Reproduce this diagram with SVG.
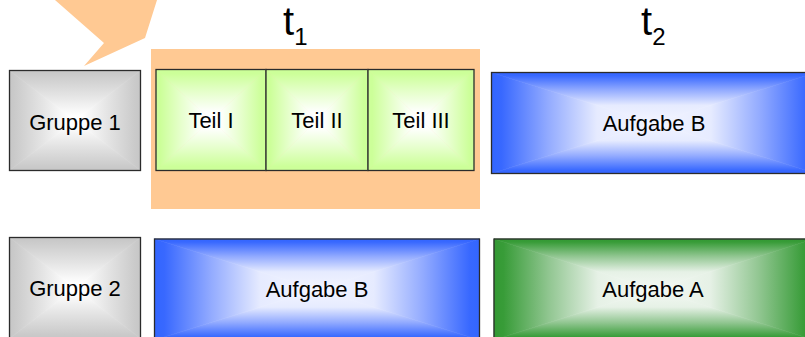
<svg xmlns="http://www.w3.org/2000/svg" xmlns:xlink="http://www.w3.org/1999/xlink" width="805" height="337" viewBox="0 0 805 337">
  <style>
    .lbl{font-family:"Liberation Sans",Arial,sans-serif;font-size:22px;fill:#000;text-anchor:middle}
    .time{font-family:"Liberation Sans",Arial,sans-serif;font-size:40px;fill:#000}
    .edge{fill:none;stroke:#2b2b2b;stroke-width:1.3}
    .hl{fill:#FFC993}
  </style>
  <defs>
    <!-- base colour ramps: edge colour fading to white at the centre -->
    <linearGradient id="gray"><stop offset="0" stop-color="#c6c6c6"/><stop offset="0.08" stop-color="#cacaca"/><stop offset="0.5" stop-color="#e4e4e4"/><stop offset="0.9" stop-color="#ffffff"/></linearGradient>
    <linearGradient id="lime"><stop offset="0" stop-color="#ccff99"/><stop offset="0.08" stop-color="#ccff99"/><stop offset="0.45" stop-color="#e6ffcc"/><stop offset="0.85" stop-color="#ffffff"/></linearGradient>
    <linearGradient id="blue"><stop offset="0" stop-color="#3366ff"/><stop offset="0.06" stop-color="#3868ff"/><stop offset="0.35" stop-color="#93abff"/><stop offset="0.65" stop-color="#e6ebff"/><stop offset="1" stop-color="#f3f5ff"/></linearGradient>
    <linearGradient id="grn"><stop offset="0" stop-color="#339933"/><stop offset="0.06" stop-color="#389c38"/><stop offset="0.35" stop-color="#93c793"/><stop offset="0.65" stop-color="#e6f1e6"/><stop offset="1" stop-color="#f4f9f4"/></linearGradient>
    <!-- four directions per ramp, used on the four triangles of each box -->
    <linearGradient id="grayT" xlink:href="#gray" x1="0" y1="0" x2="0" y2="1"/>
    <linearGradient id="grayB" xlink:href="#gray" x1="0" y1="1" x2="0" y2="0"/>
    <linearGradient id="grayL" xlink:href="#gray" x1="0" y1="0" x2="1" y2="0"/>
    <linearGradient id="grayR" xlink:href="#gray" x1="1" y1="0" x2="0" y2="0"/>
    <linearGradient id="limeT" xlink:href="#lime" x1="0" y1="0" x2="0" y2="1"/>
    <linearGradient id="limeB" xlink:href="#lime" x1="0" y1="1" x2="0" y2="0"/>
    <linearGradient id="limeL" xlink:href="#lime" x1="0" y1="0" x2="1" y2="0"/>
    <linearGradient id="limeR" xlink:href="#lime" x1="1" y1="0" x2="0" y2="0"/>
    <linearGradient id="blueT" xlink:href="#blue" x1="0" y1="0" x2="0" y2="1"/>
    <linearGradient id="blueB" xlink:href="#blue" x1="0" y1="1" x2="0" y2="0"/>
    <linearGradient id="blueL" xlink:href="#blue" x1="0" y1="0" x2="1" y2="0"/>
    <linearGradient id="blueR" xlink:href="#blue" x1="1" y1="0" x2="0" y2="0"/>
    <linearGradient id="grnT" xlink:href="#grn" x1="0" y1="0" x2="0" y2="1"/>
    <linearGradient id="grnB" xlink:href="#grn" x1="0" y1="1" x2="0" y2="0"/>
    <linearGradient id="grnL" xlink:href="#grn" x1="0" y1="0" x2="1" y2="0"/>
    <linearGradient id="grnR" xlink:href="#grn" x1="1" y1="0" x2="0" y2="0"/>
  </defs>

  <rect width="805" height="337" fill="#ffffff"/>

  <!-- highlight: callout pointer and band behind the three parts -->
  <g id="highlight">
    <polygon class="hl" points="55,0 104,43 84,66 145,38 157,0"/>
    <rect class="hl" x="151" y="49" width="329" height="160"/>
  </g>

  <!-- time labels -->
  <g id="t1"><text class="time" x="283" y="35">t<tspan font-size="24" dy="10">1</tspan></text></g>
  <g id="t2"><text class="time" x="641" y="35">t<tspan font-size="24" dy="10">2</tspan></text></g>

  <!-- Gruppe 1 -->
  <g id="gruppe1">
    <polygon points="9.5,70.5 140.5,70.5 75,120.5" fill="url(#grayT)" stroke="url(#grayT)" stroke-width="0.6"/>
    <polygon points="9.5,170.5 140.5,170.5 75,120.5" fill="url(#grayB)" stroke="url(#grayB)" stroke-width="0.6"/>
    <polygon points="9.5,70.5 9.5,170.5 75,120.5" fill="url(#grayL)" stroke="url(#grayL)" stroke-width="0.6"/>
    <polygon points="140.5,70.5 140.5,170.5 75,120.5" fill="url(#grayR)" stroke="url(#grayR)" stroke-width="0.6"/>
    <rect class="edge" x="9.5" y="70.5" width="131" height="100"/>
    <text class="lbl" x="75" y="130">Gruppe 1</text>
  </g>

  <!-- Teil I -->
  <g id="teil1">
    <polygon points="156,69.5 266,69.5 211,120" fill="url(#limeT)" stroke="url(#limeT)" stroke-width="0.6"/>
    <polygon points="156,170.5 266,170.5 211,120" fill="url(#limeB)" stroke="url(#limeB)" stroke-width="0.6"/>
    <polygon points="156,69.5 156,170.5 211,120" fill="url(#limeL)" stroke="url(#limeL)" stroke-width="0.6"/>
    <polygon points="266,69.5 266,170.5 211,120" fill="url(#limeR)" stroke="url(#limeR)" stroke-width="0.6"/>
    <rect class="edge" x="156" y="69.5" width="110" height="101"/>
    <text class="lbl" x="211" y="128">Teil I</text>
  </g>

  <!-- Teil II -->
  <g id="teil2">
    <polygon points="266,69.5 368,69.5 317,120" fill="url(#limeT)" stroke="url(#limeT)" stroke-width="0.6"/>
    <polygon points="266,170.5 368,170.5 317,120" fill="url(#limeB)" stroke="url(#limeB)" stroke-width="0.6"/>
    <polygon points="266,69.5 266,170.5 317,120" fill="url(#limeL)" stroke="url(#limeL)" stroke-width="0.6"/>
    <polygon points="368,69.5 368,170.5 317,120" fill="url(#limeR)" stroke="url(#limeR)" stroke-width="0.6"/>
    <rect class="edge" x="266" y="69.5" width="102" height="101"/>
    <text class="lbl" x="317" y="128">Teil II</text>
  </g>

  <!-- Teil III -->
  <g id="teil3">
    <polygon points="368,69.5 474,69.5 421,120" fill="url(#limeT)" stroke="url(#limeT)" stroke-width="0.6"/>
    <polygon points="368,170.5 474,170.5 421,120" fill="url(#limeB)" stroke="url(#limeB)" stroke-width="0.6"/>
    <polygon points="368,69.5 368,170.5 421,120" fill="url(#limeL)" stroke="url(#limeL)" stroke-width="0.6"/>
    <polygon points="474,69.5 474,170.5 421,120" fill="url(#limeR)" stroke="url(#limeR)" stroke-width="0.6"/>
    <rect class="edge" x="368" y="69.5" width="106" height="101"/>
    <text class="lbl" x="421" y="128">Teil III</text>
  </g>

  <!-- Aufgabe B, first row -->
  <g id="aufgabeB1">
    <polygon points="491.5,72.5 816.5,72.5 654,123" fill="url(#blueT)" stroke="url(#blueT)" stroke-width="0.6"/>
    <polygon points="491.5,173.5 816.5,173.5 654,123" fill="url(#blueB)" stroke="url(#blueB)" stroke-width="0.6"/>
    <polygon points="491.5,72.5 491.5,173.5 654,123" fill="url(#blueL)" stroke="url(#blueL)" stroke-width="0.6"/>
    <polygon points="816.5,72.5 816.5,173.5 654,123" fill="url(#blueR)" stroke="url(#blueR)" stroke-width="0.6"/>
    <rect class="edge" x="491.5" y="72.5" width="325" height="101"/>
    <text class="lbl" x="654" y="131">Aufgabe B</text>
  </g>

  <!-- Gruppe 2 -->
  <g id="gruppe2">
    <polygon points="9.5,237.5 140.5,237.5 75,288" fill="url(#grayT)" stroke="url(#grayT)" stroke-width="0.6"/>
    <polygon points="9.5,338.5 140.5,338.5 75,288" fill="url(#grayB)" stroke="url(#grayB)" stroke-width="0.6"/>
    <polygon points="9.5,237.5 9.5,338.5 75,288" fill="url(#grayL)" stroke="url(#grayL)" stroke-width="0.6"/>
    <polygon points="140.5,237.5 140.5,338.5 75,288" fill="url(#grayR)" stroke="url(#grayR)" stroke-width="0.6"/>
    <rect class="edge" x="9.5" y="237.5" width="131" height="101"/>
    <text class="lbl" x="75" y="296">Gruppe 2</text>
  </g>

  <!-- Aufgabe B, second row -->
  <g id="aufgabeB2">
    <polygon points="154.5,239 479.5,239 317,289.5" fill="url(#blueT)" stroke="url(#blueT)" stroke-width="0.6"/>
    <polygon points="154.5,340 479.5,340 317,289.5" fill="url(#blueB)" stroke="url(#blueB)" stroke-width="0.6"/>
    <polygon points="154.5,239 154.5,340 317,289.5" fill="url(#blueL)" stroke="url(#blueL)" stroke-width="0.6"/>
    <polygon points="479.5,239 479.5,340 317,289.5" fill="url(#blueR)" stroke="url(#blueR)" stroke-width="0.6"/>
    <rect class="edge" x="154.5" y="239" width="325" height="101"/>
    <text class="lbl" x="317" y="296.5">Aufgabe B</text>
  </g>

  <!-- Aufgabe A -->
  <g id="aufgabeA">
    <polygon points="494,239 814,239 654,289.5" fill="url(#grnT)" stroke="url(#grnT)" stroke-width="0.6"/>
    <polygon points="494,340 814,340 654,289.5" fill="url(#grnB)" stroke="url(#grnB)" stroke-width="0.6"/>
    <polygon points="494,239 494,340 654,289.5" fill="url(#grnL)" stroke="url(#grnL)" stroke-width="0.6"/>
    <polygon points="814,239 814,340 654,289.5" fill="url(#grnR)" stroke="url(#grnR)" stroke-width="0.6"/>
    <rect class="edge" x="494" y="239" width="320" height="101"/>
    <text class="lbl" x="653" y="296.5">Aufgabe A</text>
  </g>

  <!-- no connectors in this figure -->
  <g id="connectors"/>
</svg>
